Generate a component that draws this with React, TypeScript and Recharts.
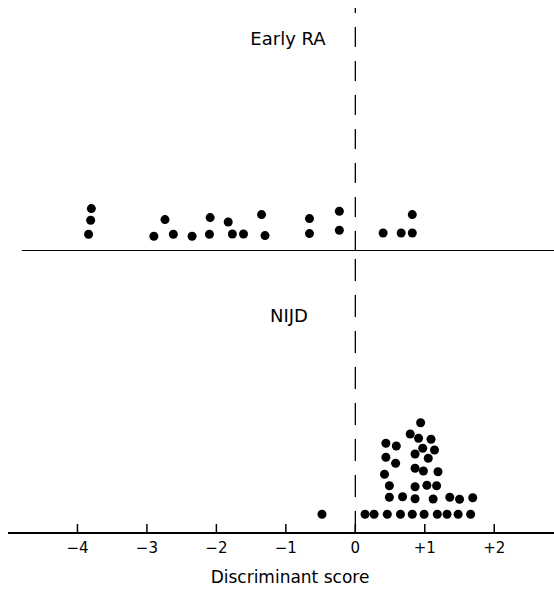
import React from 'react';
import { ScatterChart, Scatter, XAxis, YAxis, ReferenceLine } from 'recharts';

// Discriminant score (x) and stack height above baseline (y, in 10px-row units)
const earlyRAScores = [-3.80, -3.81, -3.84, -2.90, -2.74, -2.62, -2.35, -2.10, -2.09, -1.83, -1.77, -1.61, -1.35, -1.30, -0.66, -0.66, -0.23, -0.23, 0.40, 0.66, 0.82, 0.82];
const earlyRAHeights = [4.24, 3.07, 1.67, 1.47, 3.14, 1.67, 1.47, 1.67, 3.34, 2.90, 1.70, 1.70, 3.64, 1.54, 3.24, 1.74, 3.97, 2.07, 1.80, 1.80, 3.64, 1.80];

const nijdScores = [0.94, 0.79, 0.91, 1.09, 0.44, 0.59, 0.97, 1.14, 0.44, 0.86, 1.05, 0.58, 0.86, 0.98, 1.19, 0.42, 0.49, 0.86, 1.03, 1.17, 0.49, 0.68, 0.86, 1.12, 1.36, 1.50, 1.69, -0.48, 0.14, 0.27, 0.46, 0.65, 0.82, 0.99, 1.18, 1.32, 1.48, 1.66];
const nijdHeights = [11.03, 9.90, 9.47, 9.37, 8.97, 8.70, 8.47, 8.30, 7.57, 7.90, 7.47, 6.97, 6.47, 6.20, 6.13, 5.87, 4.73, 4.63, 4.77, 4.73, 3.57, 3.63, 3.43, 3.40, 3.57, 3.37, 3.53, 1.87, 1.87, 1.87, 1.87, 1.87, 1.87, 1.87, 1.87, 1.87, 1.87, 1.87];

const xTicks = [-4, -3, -2, -1, 0, 1, 2];
const xTickLabels = ['\u22124', '\u22123', '\u22122', '\u22121', '0', '+1', '+2'];
const xDomain: [number, number] = [-5, 2.86];

const panelTitles = ['Early RA', 'NIJD'];
const axisTitle = 'Discriminant score';

const earlyData = earlyRAScores.map((x, i) => ({ x, y: earlyRAHeights[i] }));
const nijdData = nijdScores.map((x, i) => ({ x, y: nijdHeights[i] }));

const FONT = '"DejaVu Sans", sans-serif';

const Dot = (props: any) => {
  const { cx, cy } = props;
  if (cx == null || cy == null) return null;
  return <circle cx={cx} cy={cy} r={4.5} fill="#000" />;
};

const Tick = (props: any) => {
  const { x, y, payload } = props;
  const idx = xTicks.indexOf(payload.value);
  return (
    <g>
      <line x1={x} x2={x} y1={y - 9} y2={y} stroke="#000" strokeWidth={1.5} />
      <text x={x} y={y + 20} textAnchor="middle" fontFamily={FONT} fontSize={15} fill="#000">
        {idx >= 0 ? xTickLabels[idx] : payload.value}
      </text>
    </g>
  );
};

export default function App() {
  const W = 546;
  return (
    <div style={{ width: W, padding: '8px 0 0 8px' }}>
      <style>{'body{margin:0}'}</style>
      <ScatterChart width={W} height={243} margin={{ top: 0, right: 0, bottom: 0, left: 0 }}>
        <XAxis type="number" dataKey="x" domain={xDomain} allowDataOverflow hide />
        <YAxis type="number" dataKey="y" domain={[0, 24.3]} allowDataOverflow hide width={0} />
        <ReferenceLine x={0} stroke="#000" strokeWidth={1.3} strokeDasharray="20 14" />
        <ReferenceLine
          segment={[{ x: -4.8, y: 0 }, { x: 2.86, y: 0 }]}
          stroke="#000"
          strokeWidth={2}
          ifOverflow="visible"
        />
        <Scatter data={earlyData} shape={<Dot />} isAnimationActive={false} />
        <text x={280} y={37} textAnchor="middle" fontFamily={FONT} fontSize={18} fill="#000">
          {panelTitles[0]}
        </text>
      </ScatterChart>
      <ScatterChart width={W} height={342} margin={{ top: 0, right: 0, bottom: 0, left: 0 }}>
        <XAxis
          type="number"
          dataKey="x"
          domain={xDomain}
          allowDataOverflow
          ticks={xTicks}
          interval={0}
          tickSize={0}
          tickMargin={0}
          tickLine={false}
          axisLine={{ stroke: '#000', strokeWidth: 2 }}
          tick={<Tick />}
          height={60}
        />
        <YAxis type="number" dataKey="y" domain={[0, 28.2]} allowDataOverflow hide width={0} />
        <ReferenceLine x={0} stroke="#000" strokeWidth={1.3} strokeDasharray="22 14" />
        <Scatter data={nijdData} shape={<Dot />} isAnimationActive={false} />
        <text x={262} y={71} textAnchor="start" fontFamily={FONT} fontSize={18} fill="#000">
          {panelTitles[1]}
        </text>
        <text x={282} y={332} textAnchor="middle" fontFamily={FONT} fontSize={17} fill="#000">
          {axisTitle}
        </text>
      </ScatterChart>
    </div>
  );
}
